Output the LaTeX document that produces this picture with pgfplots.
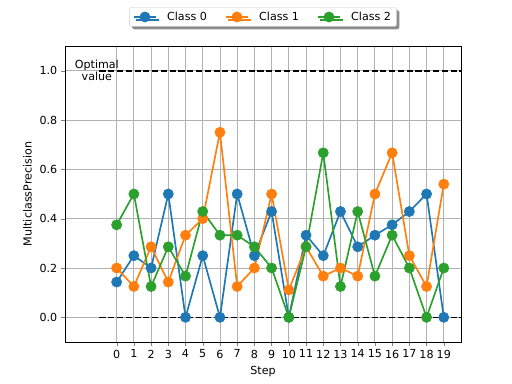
\documentclass[border=0pt]{standalone}
\usepackage{pgfplots}
\pgfplotsset{compat=1.18}
\usepackage{fontspec}
\setmainfont{DejaVu Sans}
\usetikzlibrary{shadows}
\definecolor{c0}{HTML}{1F77B4}
\definecolor{c1}{HTML}{FF7F0E}
\definecolor{c2}{HTML}{2CA02C}
\begin{document}
\begin{tikzpicture}
\begin{axis}[
  scale only axis, width=356.4pt, height=266.4pt,
  xmin=-3, xmax=20, ymin=-0.1, ymax=1.1,
  xtick={0,...,19}, ytick={0,0.2,0.4,0.6,0.8,1.0},
  yticklabel style={/pgf/number format/fixed,/pgf/number format/fixed zerofill,/pgf/number format/precision=1},
  /pgf/number format/assume math mode=true,
  tick label style={font=\fontsize{10}{12}\selectfont},
  label style={font=\fontsize{10}{12}\selectfont},
  tick align=outside, tick pos=left,
  major tick length=3.5pt,
  grid=major, grid style={color=black!30, line width=0.8pt},
  xlabel={Step}, ylabel={MulticlassPrecision},
  axis line style={line width=0.8pt},
  legend columns=3,
  legend image code/.code={\draw[mark repeat=2,mark phase=2] plot coordinates {(0cm,0cm) (0.36cm,0cm) (0.72cm,0cm)};},
  legend style={at={(0.5,1.098)}, anchor=center, font=\fontsize{10}{12}\selectfont, draw=black!20, rounded corners=2pt, fill=white, inner ysep=2pt, inner xsep=3pt, drop shadow={shadow xshift=2.5pt, shadow yshift=-2.5pt, fill=black!45, opacity=1}, /tikz/every odd column/.append style={column sep=7pt}, /tikz/every even column/.append style={column sep=14pt}},
  legend cell align=left,
  every axis plot/.append style={line width=1.5pt, mark=*, mark size=4.6pt},
]
\addplot[black, dashed, dash pattern=on 5.5pt off 2.4pt, mark=none, forget plot] coordinates {(-1,1) (20,1)};
\addplot[black, dashed, dash pattern=on 5.5pt off 2.4pt, mark=none, forget plot] coordinates {(-1,0) (20,0)};
\addplot[c0, mark options={fill=c0, draw=c0, line width=0.5pt}] coordinates {
(0,0.143) (1,0.25) (2,0.2) (3,0.5) (4,0) (5,0.25) (6,0) (7,0.5) (8,0.25) (9,0.429)
(10,0) (11,0.333) (12,0.25) (13,0.429) (14,0.286) (15,0.333) (16,0.375) (17,0.429) (18,0.5) (19,0)};
\addlegendentry{Class 0}
\addplot[c1, mark options={fill=c1, draw=c1, line width=0.5pt}] coordinates {
(0,0.2) (1,0.125) (2,0.286) (3,0.143) (4,0.333) (5,0.4) (6,0.75) (7,0.125) (8,0.2) (9,0.5)
(10,0.111) (11,0.286) (12,0.167) (13,0.2) (14,0.167) (15,0.5) (16,0.667) (17,0.25) (18,0.125) (19,0.54)};
\addlegendentry{Class 1}
\addplot[c2, mark options={fill=c2, draw=c2, line width=0.5pt}] coordinates {
(0,0.375) (1,0.5) (2,0.125) (3,0.286) (4,0.167) (5,0.429) (6,0.333) (7,0.333) (8,0.286) (9,0.2)
(10,0) (11,0.286) (12,0.667) (13,0.125) (14,0.429) (15,0.167) (16,0.333) (17,0.2) (18,0) (19,0.2)};
\addlegendentry{Class 2}
\node[align=center, font=\fontsize{10}{11}\selectfont, inner sep=0pt] at (axis cs:-1.15,1.0) {Optimal\\value};
\end{axis}
\path ([shift={(-58.5pt,-37.8pt)}]current axis.south west) rectangle ([shift={(45.9pt,41.4pt)}]current axis.north east);
\end{tikzpicture}
\end{document}
